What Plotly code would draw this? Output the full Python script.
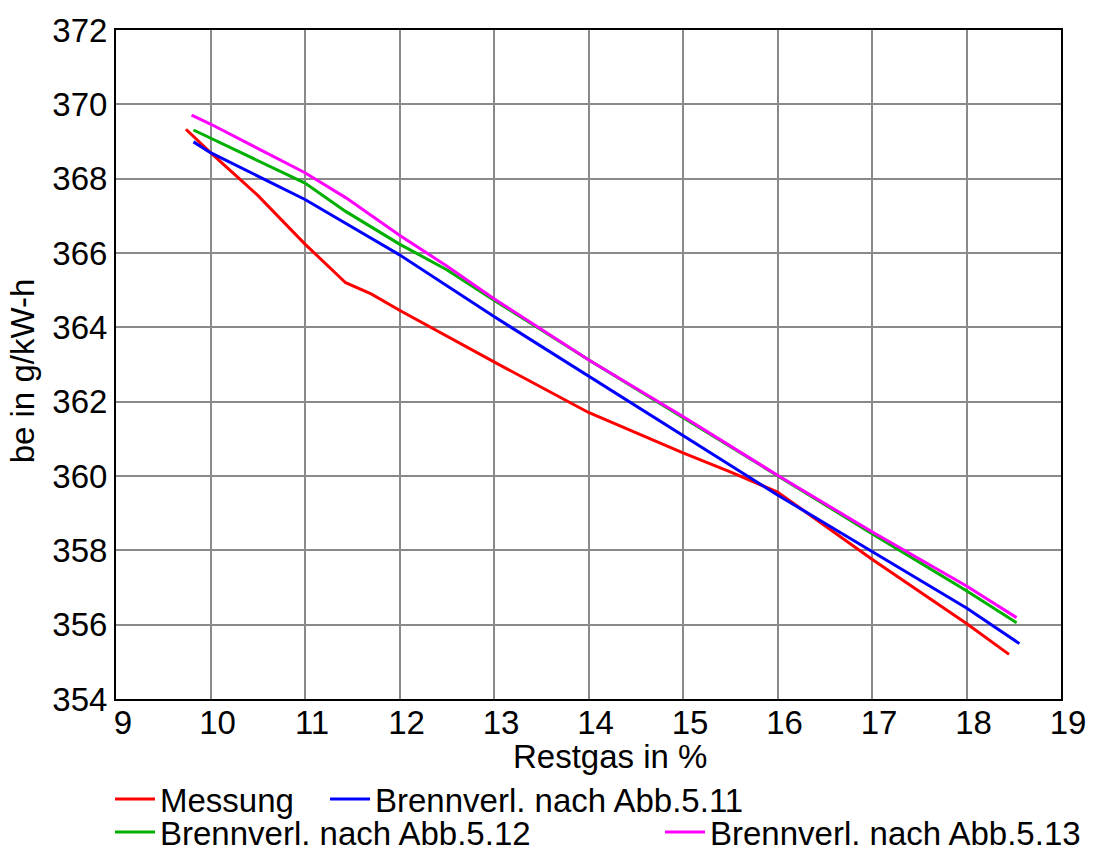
import plotly.graph_objects as go

# Restgas (%) vs. specific fuel consumption be (g/kWh)
x_messung = [9.74, 10.0, 10.5, 11.0, 11.43, 11.7, 12.0, 13.0, 14.0, 15.0, 15.5, 16.0, 17.0, 18.0, 18.45]
y_messung = [369.33, 368.70, 367.55, 366.24, 365.20, 364.90, 364.46, 363.07, 361.71, 360.62, 360.11, 359.57, 357.76, 356.03, 355.20]

x_abb511 = [9.82, 10.0, 11.0, 11.43, 12.0, 13.0, 14.0, 15.0, 16.0, 17.0, 18.0, 18.56]
y_abb511 = [368.99, 368.70, 367.44, 366.80, 365.95, 364.29, 362.69, 361.09, 359.49, 357.97, 356.45, 355.49]

x_abb512 = [9.82, 10.0, 11.0, 11.43, 12.0, 12.5, 13.0, 14.0, 15.0, 16.0, 17.0, 18.0, 18.53]
y_abb512 = [369.31, 369.09, 367.88, 367.12, 366.24, 365.55, 364.73, 363.13, 361.57, 360.00, 358.45, 356.91, 356.05]

x_abb513 = [9.80, 10.0, 11.0, 11.43, 12.0, 12.5, 13.0, 14.0, 15.0, 16.0, 17.0, 18.0, 18.53]
y_abb513 = [369.71, 369.47, 368.16, 367.49, 366.48, 365.65, 364.77, 363.13, 361.60, 360.02, 358.50, 357.04, 356.19]

series_names = ["Messung", "Brennverl. nach Abb.5.11",
                "Brennverl. nach Abb.5.12", "Brennverl. nach Abb.5.13"]
series_colors = ["#ff0000", "#0000ff", "#00b000", "#ff00ff"]

x_ticks = list(range(9, 20))
y_ticks = list(range(354, 373, 2))

FONT = "Liberation Sans, Arial, sans-serif"
FS = 33
FS_LEG = 33
W, H = 1098, 848

# one legend box per series, laid out in two rows below the plot
legend_ids = ["legend", "legend2", "legend3", "legend4"]
legend_pos = [(110, 799), (325, 799), (110, 832), (660, 832)]

fig = go.Figure()
data = [(x_messung, y_messung), (x_abb511, y_abb511),
        (x_abb512, y_abb512), (x_abb513, y_abb513)]
for (xs, ys), name, col, lg in zip(data, series_names, series_colors, legend_ids):
    fig.add_trace(go.Scatter(x=xs, y=ys, mode="lines", name=name,
                             line=dict(color=col, width=3), legend=lg))

axis_common = dict(
    showgrid=True, gridcolor="#8a8a8a", gridwidth=2,
    showline=True, linecolor="#000000", linewidth=2, mirror=True,
    zeroline=False, ticks="",
    tickfont=dict(family=FONT, size=FS, color="#000000"),
)

fig.update_xaxes(range=[9, 19], tickvals=x_ticks, ticktext=[str(v) for v in x_ticks],
                 ticklabelshift=7, **axis_common)
fig.update_yaxes(range=[354, 372], tickvals=y_ticks, ticktext=[str(v) for v in y_ticks],
                 **axis_common)
try:
    fig.update_xaxes(ticklabelstandoff=-7)
except ValueError:
    pass

legend_common = dict(
    orientation="h", xref="container", yref="container",
    xanchor="left", yanchor="middle",
    bgcolor="rgba(0,0,0,0)", borderwidth=0,
    font=dict(family=FONT, size=FS_LEG, color="#000000"),
    itemwidth=40,
)
legend_layout = {
    lg: dict(x=px / W, y=1 - py / H, **legend_common)
    for lg, (px, py) in zip(legend_ids, legend_pos)
}

fig.update_layout(
    width=W, height=H,
    margin=dict(l=116, r=33, t=24, b=149),
    paper_bgcolor="#ffffff", plot_bgcolor="#ffffff",
    font=dict(family=FONT, size=FS, color="#000000"),
    showlegend=True,
    annotations=[
        dict(text="Restgas in %", xref="paper", yref="paper",
             x=(612 - 116) / 949, y=(699 - 757) / 675,
             xanchor="center", yanchor="middle", showarrow=False,
             font=dict(family=FONT, size=FS, color="#000000")),
        dict(text="be in g/kW-h", xref="paper", yref="paper",
             x=(23 - 116) / 949, y=(699 - 368) / 675, textangle=-90,
             xanchor="center", yanchor="middle", showarrow=False,
             font=dict(family=FONT, size=FS, color="#000000")),
    ],
    **legend_layout,
)

fig.write_html("out.html")
